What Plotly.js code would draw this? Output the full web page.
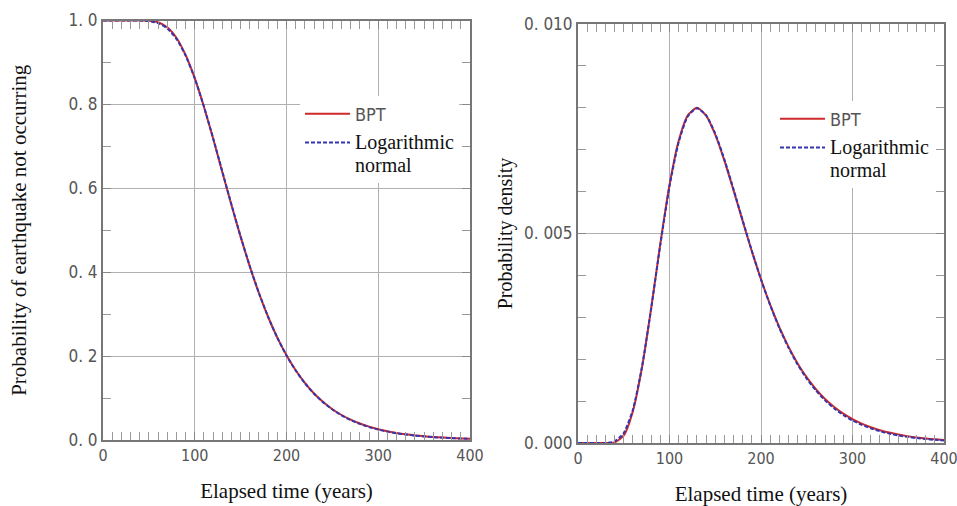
<!DOCTYPE html>
<html>
<head>
<meta charset="utf-8">
<script src="https://cdn.plot.ly/plotly-3.0.1.min.js"></script>
<style>
html,body{margin:0;padding:0;background:#fff;}
#chart{width:957px;height:506px;}
</style>
</head>
<body>
<div id="chart"></div>
<script>
// Elapsed time (years)
const years = [0,10,20,30,40,50,60,70,80,90,100,110,120,130,140,150,160,170,180,190,200,210,220,230,240,250,260,270,280,290,300,310,320,330,340,350,360,370,380,390,400];

// Left panel: probability of earthquake not occurring
const survBPT = [1.0,1.0,1.0,1.0,1.0,0.9995,0.9960,0.9840,0.9590,0.9180,0.8625,0.7945,0.7185,0.6390,0.5600,0.4842,0.4136,0.3498,0.2932,0.2440,0.2019,0.1662,0.1361,0.1110,0.0904,0.0734,0.0596,0.0484,0.0392,0.0318,0.0257,0.0208,0.0168,0.0136,0.0110,0.0089,0.0072,0.0058,0.0047,0.0038,0.0031];
const survLogN = [1.0,1.0,1.0,1.0,0.9999,0.9987,0.9939,0.9812,0.9563,0.9165,0.8619,0.7949,0.7197,0.6405,0.5614,0.4852,0.4143,0.3502,0.2933,0.2438,0.2015,0.1656,0.1354,0.1103,0.0897,0.0726,0.0588,0.0475,0.0383,0.0308,0.0248,0.0200,0.0161,0.0130,0.0104,0.0084,0.0068,0.0055,0.0044,0.0036,0.0029];

// Right panel: probability density
const densBPT = [0,0,0,0,0.000012,0.000180,0.000760,0.001810,0.003220,0.004760,0.006160,0.007210,0.007820,0.008000,0.007815,0.007360,0.006740,0.006030,0.005295,0.004575,0.003905,0.003300,0.002765,0.002300,0.001900,0.001565,0.001285,0.001050,0.000858,0.000700,0.000570,0.000464,0.000377,0.000306,0.000249,0.000202,0.000164,0.000133,0.000108,0.000087,0.000071];
const densLogN = [0,0,0,0.000002,0.0000376,0.000236,0.000795,0.001824,0.003217,0.004739,0.006125,0.007176,0.007797,0.007990,0.007823,0.007382,0.006766,0.006053,0.005311,0.004584,0.003905,0.003291,0.002748,0.002276,0.001874,0.001535,0.001252,0.001018,0.000825,0.000667,0.000538,0.000434,0.000349,0.000281,0.000226,0.000182,0.000146,0.000117,0.0000944,0.0000760,0.0000612];

// Tick labels
const xTickVals = [0,100,200,300,400];
const xTickText = ['0','100','200','300','400'];
const y1TickVals = [0,0.2,0.4,0.6,0.8,1.0];
const y1TickText = ['0. 0','0. 2','0. 4','0. 6','0. 8','1. 0'];
const y2TickVals = [0,0.005,0.010];
const y2TickText = ['0. 000','0. 005','0. 010'];

const seriesNames = ['BPT','Logarithmic<br>normal'];

const SANS = '"Liberation Sans Narrow", "DejaVu Sans Condensed", "Arial Narrow", sans-serif';
const SERIF = '"Liberation Serif", "Times New Roman", serif';
const RED = '#cf2a2a';
const BLUE = '#3535b0';

const bptName = '<span style="font-family:\'Liberation Sans Narrow\',\'DejaVu Sans Condensed\',sans-serif;color:#555;font-size:18px">' + seriesNames[0] + '</span>';
const lnName = seriesNames[1].split('<br>').map(s => '<span style="font-size:20px">' + s + '</span>').join('<br>');

const traces = [
  {x: years, y: survBPT, xaxis:'x', yaxis:'y', name: bptName, legend:'legend', legendgroup:'a1', mode:'lines', line:{color:RED, width:2, shape:'spline', smoothing:0.6}},
  {x: years, y: survLogN, xaxis:'x', yaxis:'y', name: lnName, legend:'legend', legendgroup:'b1', mode:'lines', line:{color:BLUE, width:2, dash:'4px,2px', shape:'spline', smoothing:0.6}},
  {x: years, y: densBPT, xaxis:'x2', yaxis:'y2', name: bptName, legend:'legend2', legendgroup:'a2', mode:'lines', line:{color:RED, width:2, shape:'spline', smoothing:0.6}},
  {x: years, y: densLogN, xaxis:'x2', yaxis:'y2', name: lnName, legend:'legend2', legendgroup:'b2', mode:'lines', line:{color:BLUE, width:2, dash:'4px,2px', shape:'spline', smoothing:0.6}}
];

function xAxis(domain, anchor){
  return {
    domain: domain, anchor: anchor, range:[0,400],
    tickmode:'array', tickvals: xTickVals, ticktext: xTickText,
    ticks:'inside', ticklen:8, tickcolor:'#888', tickwidth:1,
    showline:true, linecolor:'#777', linewidth:2, mirror:'ticks',
    showgrid:true, gridcolor:'#b0b0b0', gridwidth:1, zeroline:false,
    minor:{tickmode:'linear', tick0:0, dtick:10, ticks:'inside', ticklen:8, tickcolor:'#999', tickwidth:1, showgrid:false},
    tickfont:{family:SANS, size:16, color:'#555'},
    ticklabeloverflow:'allow',
    title:{text:'Elapsed time (years)', font:{family:SERIF, size:21, color:'#111'}, standoff:19},
    automargin:false
  };
}

function legendAt(xpx, ypx){
  return {
    x: xpx/957, y: 1-ypx/506, xanchor:'left', yanchor:'top',
    bgcolor:'#ffffff', borderwidth:0, valign:'top', itemwidth:45,
    font:{family:SERIF, size:17.4, color:'#111'},
    traceorder:'grouped', tracegroupgap:3,
    itemclick:false, itemdoubleclick:false
  };
}

const layout = {
  width:957, height:506,
  margin:{l:0, r:0, t:0, b:0},
  paper_bgcolor:'#ffffff', plot_bgcolor:'#ffffff',
  hovermode:false,
  xaxis: xAxis([103/957, 470/957], 'y'),
  xaxis2: xAxis([578/957, 944/957], 'y2'),
  yaxis: {
    domain:[1-440/506, 1-20.5/506], anchor:'x', range:[0,1.0],
    tickmode:'array', tickvals:y1TickVals, ticktext:y1TickText,
    ticks:'inside', ticklen:8, tickcolor:'#888',
    showline:true, linecolor:'#777', linewidth:2, mirror:'ticks',
    showgrid:true, gridcolor:'#b0b0b0', gridwidth:1, zeroline:false,
    minor:{tickmode:'linear', tick0:0, dtick:0.1, ticks:'inside', ticklen:8, tickcolor:'#999', showgrid:false},
    tickfont:{family:SANS, size:17, color:'#555'},
    title:{text:'Probability of earthquake not occurring', font:{family:SERIF, size:21, color:'#111'}, standoff:36},
    automargin:false
  },
  yaxis2: {
    domain:[1-443/506, 1-24/506], anchor:'x2', range:[0,0.010],
    tickmode:'array', tickvals:y2TickVals, ticktext:y2TickText,
    ticks:'inside', ticklen:8, tickcolor:'#888',
    showline:true, linecolor:'#777', linewidth:2, mirror:'ticks',
    showgrid:true, gridcolor:'#b0b0b0', gridwidth:1, zeroline:false,
    minor:{tickmode:'linear', tick0:0, dtick:0.001, ticks:'inside', ticklen:8, tickcolor:'#999', showgrid:false},
    tickfont:{family:SANS, size:17, color:'#555'},
    title:{text:'Probability density', font:{family:SERIF, size:20, color:'#111'}, standoff:6},
    automargin:false
  },
  legend: legendAt(300, 96),
  legend2: legendAt(775, 101),
  showlegend:true
};

Plotly.newPlot('chart', traces, layout, {displayModeBar:false, staticPlot:true});
</script>
</body>
</html>
